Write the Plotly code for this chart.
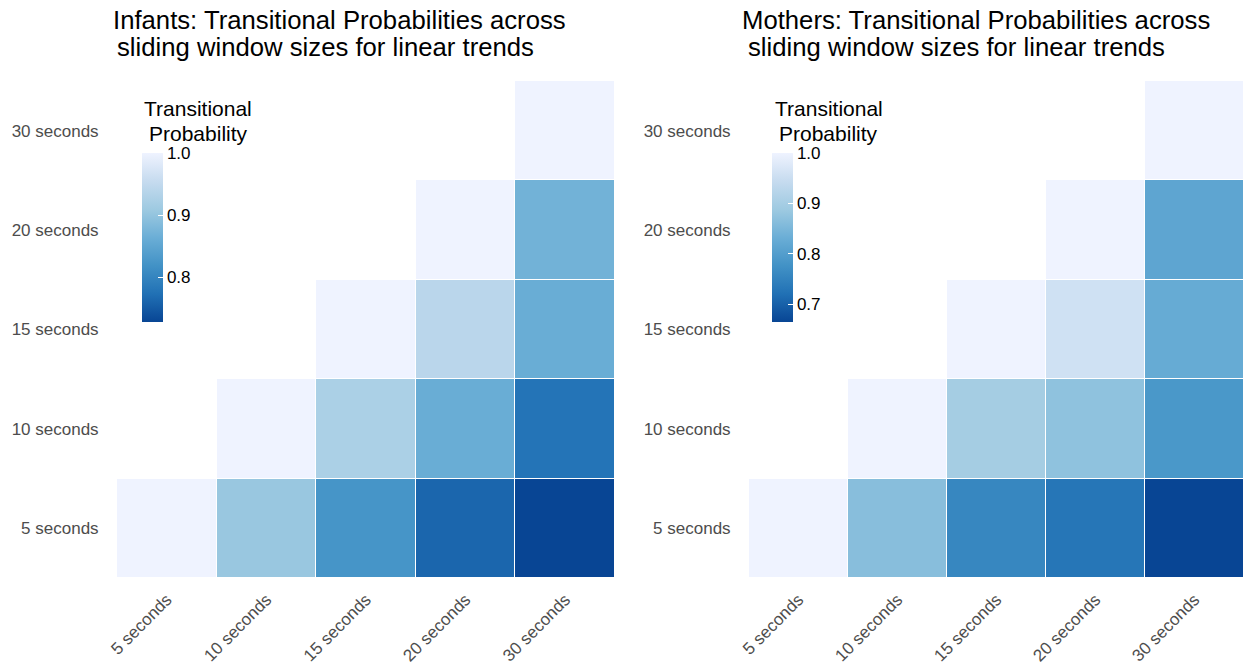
import plotly.graph_objects as go

W, H = 1244, 669

windows = ["5 seconds", "10 seconds", "15 seconds", "20 seconds", "30 seconds"]

# Rows follow the y-axis window (5 s at the bottom), columns the x-axis window.
infants_tp = [
    [1.000, 0.905, 0.823, 0.762, 0.728],
    [None, 1.000, 0.924, 0.862, 0.778],
    [None, None, 1.000, 0.941, 0.862],
    [None, None, None, 1.000, 0.870],
    [None, None, None, None, 1.000],
]

mothers_tp = [
    [1.000, 0.864, 0.758, 0.729, 0.665],
    [None, 1.000, 0.898, 0.872, 0.788],
    [None, None, 1.000, 0.957, 0.826],
    [None, None, None, 1.000, 0.815],
    [None, None, None, None, 1.000],
]

infants_ticks = [0.8, 0.9, 1.0]
mothers_ticks = [0.7, 0.8, 0.9, 1.0]

titles = [
    "Infants: Transitional Probabilities across",
    "sliding window sizes for linear trends",
    "Mothers: Transitional Probabilities across",
    "sliding window sizes for linear trends",
]

blues = ["#084594", "#2171b5", "#4292c6", "#6baed6", "#9ecae1", "#c6dbef", "#eff3ff"]
colorscale = [[i / (len(blues) - 1), c] for i, c in enumerate(blues)]

FONT = "Liberation Sans, Arial, Helvetica, sans-serif"


def px_x(p):
    return p / W


def px_y(p):
    return 1 - p / H


def colorbar(x_left, ticks):
    return dict(
        x=px_x(x_left), xanchor="left",
        y=px_y(153), yanchor="top",
        len=169, lenmode="pixels",
        thickness=21, thicknessmode="pixels",
        xpad=0, ypad=0, outlinewidth=0,
        tickvals=ticks, tickformat=".1f",
        ticks="inside", ticklen=5, tickcolor="white", tickwidth=1,
        tickfont=dict(family=FONT, size=17, color="black"),
        title=dict(text=""),
    )


fig = go.Figure()

fig.add_trace(go.Heatmap(
    x=windows, y=windows, z=infants_tp,
    colorscale=colorscale, xgap=1, ygap=1,
    colorbar=colorbar(142, infants_ticks),
    hoverongaps=False, xaxis="x", yaxis="y",
))
fig.add_trace(go.Heatmap(
    x=windows, y=windows, z=mothers_tp,
    colorscale=colorscale, xgap=1, ygap=1,
    colorbar=colorbar(772, mothers_ticks),
    hoverongaps=False, xaxis="x2", yaxis="y2",
))

axis_common = dict(
    type="category", showgrid=False, zeroline=False, showline=False,
    ticks="outside", tickcolor="rgba(0,0,0,0)",
    tickfont=dict(family=FONT, size=17, color="#4d4d4d"),
    categoryorder="array", categoryarray=windows, automargin=False,
)
x_axis = dict(tickangle=-45, ticklen=4, **axis_common)
y_axis = dict(ticklen=14, **axis_common)

y_dom = [px_y(578), px_y(81)]

fig.update_layout(
    width=W, height=H,
    margin=dict(l=0, r=0, t=0, b=0, autoexpand=False),
    paper_bgcolor="white", plot_bgcolor="white",
    font=dict(family=FONT),
    showlegend=False,
    xaxis=dict(domain=[px_x(117), px_x(615)], anchor="y", **x_axis),
    yaxis=dict(domain=y_dom, anchor="x", **y_axis),
    xaxis2=dict(domain=[px_x(749), 1.0], anchor="y2", **x_axis),
    yaxis2=dict(domain=y_dom, anchor="x2", **y_axis),
)

annotations = []
# panel titles, two lines each
for x0, y0, text in [(111, 20, titles[0]), (115, 47, titles[1]),
                     (740, 20, titles[2]), (746, 47, titles[3])]:
    annotations.append(dict(
        x=px_x(x0), y=px_y(y0), xref="paper", yref="paper",
        xanchor="left", yanchor="middle", showarrow=False,
        text=text, font=dict(family=FONT, size=25.7, color="black"),
    ))
# colour bar titles
for xc in (198, 829):
    for yc, word in ((109, "Transitional"), (133, "Probability")):
        annotations.append(dict(
            x=px_x(xc), y=px_y(yc), xref="paper", yref="paper",
            xanchor="center", yanchor="middle", showarrow=False,
            text=word, font=dict(family=FONT, size=21, color="black"),
        ))
fig.update_layout(annotations=annotations)

fig.write_html("out.html")
